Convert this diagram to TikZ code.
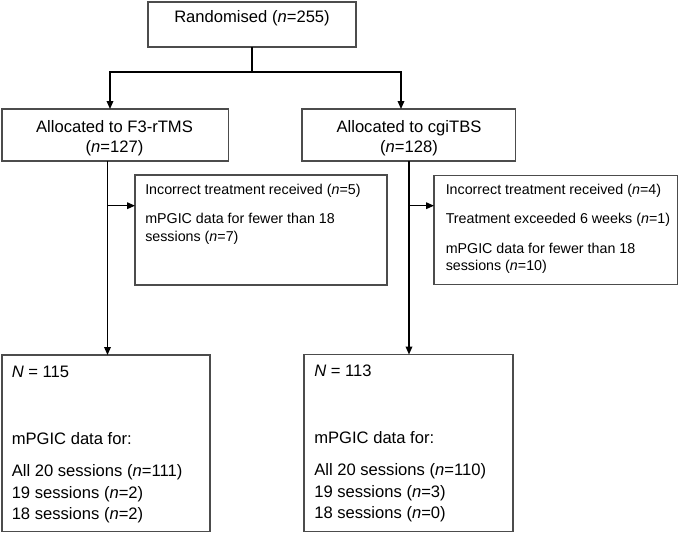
\documentclass[tikz,border=0pt]{standalone}
\usepackage{fontspec}
\setmainfont{Liberation Sans}
\usetikzlibrary{arrows.meta}
\begin{document}
\begin{tikzpicture}[x=0.75pt,y=-0.75pt,
  box/.style 2 args={draw=black!70, line width=0.8pt, rectangle, inner sep=0pt, outer sep=0pt,
    anchor=north west, minimum width=#1*0.75pt, minimum height=#2*0.75pt},
  big/.style={font=\fontsize{12.45pt}{15pt}\selectfont, inner sep=0pt},
  bigl/.style={big, anchor=base west},
  small/.style={font=\fontsize{10.7pt}{13pt}\selectfont, inner sep=0pt, anchor=base west},
  conn/.style={line width=0.95pt, black},
  arr/.style={conn, -{Triangle[length=6pt,width=5pt]}}]
\useasboundingbox (0,0) rectangle (685,533);

% boxes
\node[box={208}{45}] (top) at (148,2) {};
\node[box={226.5}{52}] (allocL) at (2,109) {};
\node[box={213.5}{52}] (allocR) at (302,109) {};
\node[box={252}{110}] (exclL) at (135,175) {};
\node[box={243.5}{109}] (exclR) at (434,175.5) {};
\node[box={208}{176.5}] (botL) at (2,355) {};
\node[box={209}{177}] (botR) at (304,354.5) {};

% texts
\node[big, anchor=base] (t1) at (252,22.5) {Randomised (\textit{n}=255)};
\node[big, anchor=base] (t2) at (114.5,132.3) {Allocated to F3-rTMS};
\node[big, anchor=base] (t3) at (114.5,152.3) {(\textit{n}=127)};
\node[big, anchor=base] (t4) at (409,132.3) {Allocated to cgiTBS};
\node[big, anchor=base] (t5) at (409,152.3) {(\textit{n}=128)};

\node[small] (e1) at (145,194) {Incorrect treatment received (\textit{n}=5)};
\node[small] (e2) at (145,223.5) {mPGIC data for fewer than 18};
\node[small] (e3) at (145,241) {sessions (\textit{n}=7)};

\node[small] (f1) at (445.5,194) {Incorrect treatment received (\textit{n}=4)};
\node[small] (f2) at (445.5,223) {Treatment exceeded 6 weeks (\textit{n}=1)};
\node[small] (f3) at (445.5,253) {mPGIC data for fewer than 18};
\node[small] (f4) at (445.5,270.5) {sessions (\textit{n}=10)};

\node[bigl] (g1) at (11.5,377.2) {\textit{N} = 115};
\node[bigl] (g2) at (11.5,444.5) {mPGIC data for:};
\node[bigl] (g3) at (11.5,476.2) {All 20 sessions (\textit{n}=111)};
\node[bigl] (g4) at (11.5,498.3) {19 sessions (\textit{n}=2)};
\node[bigl] (g5) at (11.5,519.5) {18 sessions (\textit{n}=2)};

\node[bigl] (h1) at (314,376.2) {\textit{N} = 113};
\node[bigl] (h2) at (314,443.5) {mPGIC data for:};
\node[bigl] (h3) at (314,475.2) {All 20 sessions (\textit{n}=110)};
\node[bigl] (h4) at (314,497.3) {19 sessions (\textit{n}=3)};
\node[bigl] (h5) at (314,518.5) {18 sessions (\textit{n}=0)};

% connectors
\coordinate (jC) at (252,72);
\coordinate (jL) at (110,72);
\coordinate (jR) at (401,72);
\draw[conn] (top.south) -- (jC);
\draw[arr] (jC) -- (jL) -- (jL |- allocL.north);
\draw[arr] (jC) -- (jR) -- (jR |- allocR.north);

\coordinate (sL) at (107.5,161);
\coordinate (sR) at (409,161);
\draw[arr] (sL) -- (sL |- botL.north);
\draw[arr] (sR) -- (sR |- botR.north);

\coordinate (bL) at (107.5,205.7);
\coordinate (bR) at (409,205.7);
\draw[arr] (bL) -- (bL -| exclL.west);
\draw[arr] (bR) -- (bR -| exclR.west);
\end{tikzpicture}
\end{document}
